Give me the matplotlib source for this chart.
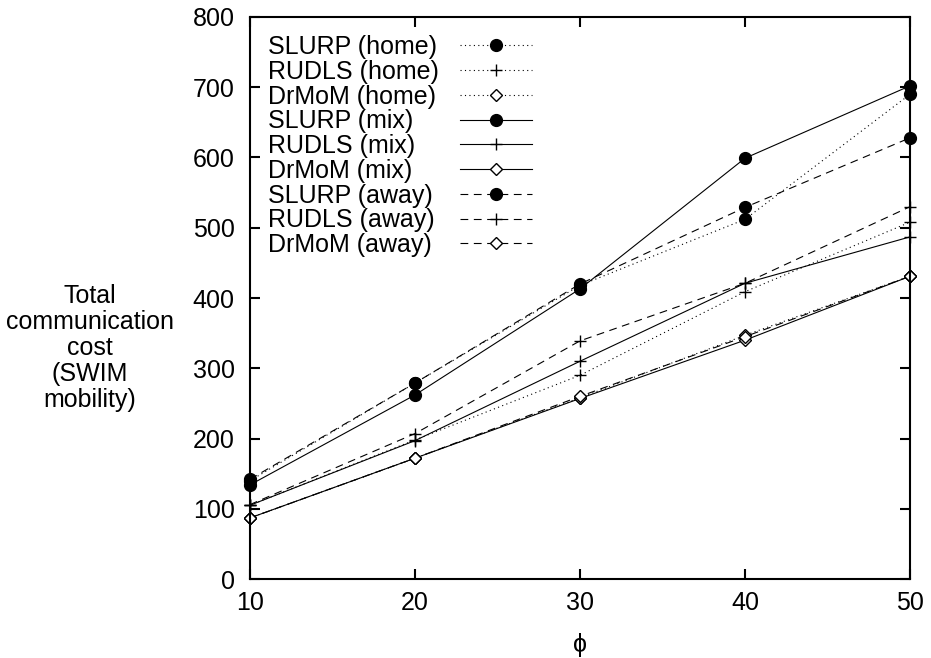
import matplotlib
matplotlib.use("Agg")
import matplotlib.pyplot as plt
from matplotlib.lines import Line2D

plt.rcParams['font.family'] = ['Liberation Sans', 'DejaVu Sans']
plt.rcParams['font.size'] = 18

phi = [10, 20, 30, 40, 50]

# home
slurp_home = [140, 279, 418, 512, 690]
rudls_home = [105, 198, 290, 409, 508]
drmom_home = [87, 172, 258, 347, 431]
# mix
slurp_mix = [134, 262, 413, 599, 702]
rudls_mix = [105, 197, 310, 421, 487]
drmom_mix = [87, 172, 257, 340, 431]
# away
slurp_away = [142, 279, 420, 529, 628]
rudls_away = [106, 207, 339, 421, 530]
drmom_away = [87, 172, 260, 345, 431]

labels = ['SLURP (home)', 'RUDLS (home)', 'DrMoM (home)',
          'SLURP (mix)', 'RUDLS (mix)', 'DrMoM (mix)',
          'SLURP (away)', 'RUDLS (away)', 'DrMoM (away)']
series = [slurp_home, rudls_home, drmom_home,
          slurp_mix, rudls_mix, drmom_mix,
          slurp_away, rudls_away, drmom_away]

dotted = (0, (1, 3))
dashed = (0, (7, 5))
styles = [dotted] * 3 + ['-'] * 3 + [dashed] * 3
markers = ['o', '+', 'D'] * 3

fig = plt.figure(figsize=(9.31, 6.58), dpi=100)
ax = fig.add_axes([0.2685, 0.12, 0.709, 0.8542])

handles = []
for y, ls, mk in zip(series, styles, markers):
    if mk == 'o':
        kw = dict(markersize=8.5, markerfacecolor='black')
    elif mk == '+':
        kw = dict(markersize=9, markeredgewidth=1.0)
    else:
        kw = dict(markersize=6, markerfacecolor='white', markeredgewidth=1.0)
    h, = ax.plot(phi, y, color='black', linestyle=ls, linewidth=0.8,
                 marker=mk, markeredgecolor='black', clip_on=False, **kw)
    handles.append(h)

ax.set_xlim(10, 50)
ax.set_ylim(0, 800)
ax.set_xticks(phi)
ax.set_yticks(range(0, 801, 100))
ax.tick_params(direction='in', length=7, width=1.5, top=True, right=True)
ax.tick_params(axis='x', pad=8.5)
ax.tick_params(axis='y', pad=11)
for s in ax.spines.values():
    s.set_linewidth(1.5)

ax.set_xlabel('ϕ', labelpad=13)
ax.set_ylabel('Total\ncommunication\ncost\n(SWIM\nmobility)', rotation=0,
              ha='center', va='center', linespacing=1.1)
ax.yaxis.set_label_coords(-0.2424, 0.411)

# legend: text on the left, samples on the right (gnuplot style)
blank = [Line2D([], [], linestyle='none') for _ in labels]
leg_text = ax.legend(blank, labels, loc='upper left', bbox_to_anchor=(0.027, 0.9676),
                     frameon=False, handlelength=0, handletextpad=0,
                     labelspacing=0.03, borderpad=0, borderaxespad=0)
ax.add_artist(leg_text)
ax.legend(handles, [''] * len(labels), loc='upper left', bbox_to_anchor=(0.318, 0.9676),
          frameon=False, handlelength=2.88, handletextpad=0,
          labelspacing=0.03, borderpad=0, borderaxespad=0)

fig.savefig('out.png', dpi=100)
